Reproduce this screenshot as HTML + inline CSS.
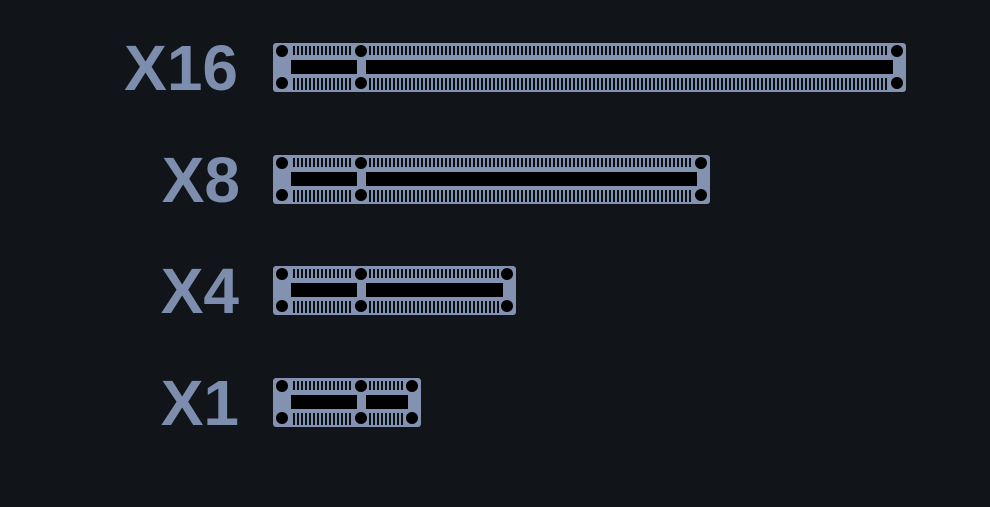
<!DOCTYPE html>
<html><head><meta charset="utf-8"><style>
html,body{margin:0;padding:0;background:#111418;}
svg{display:block}
</style></head><body>
<svg width="990" height="507" viewBox="0 0 990 507" xmlns="http://www.w3.org/2000/svg">
<defs>
<pattern id="pins" x="0" y="0" width="4" height="20" patternUnits="userSpaceOnUse">
<rect x="0" y="0" width="2" height="20" fill="#0b0d10"/>
</pattern>
</defs>
<rect width="990" height="507" fill="#111418"/>
<g font-family="'Liberation Sans',sans-serif" font-weight="bold" font-size="64" fill="#7d8dad" text-anchor="end">
<text x="238" y="90">X16</text>
<text x="240" y="202">X8</text>
<text x="239" y="313">X4</text>
<text x="239" y="425">X1</text>
</g>

<g transform="translate(273,43)">
<rect x="0" y="0" width="633" height="49" rx="3" fill="#8392b1"/>
<rect x="18" y="3" width="62" height="9" fill="url(#pins)"/>
<rect x="96" y="3" width="520" height="9" fill="url(#pins)"/>
<rect x="18" y="35" width="62" height="12" fill="url(#pins)"/>
<rect x="96" y="35" width="520" height="12" fill="url(#pins)"/>
<rect x="18" y="17" width="66" height="14" fill="#000"/>
<rect x="93" y="17" width="527" height="14" fill="#000"/>
<circle cx="9" cy="8" r="6"/><circle cx="9" cy="40" r="6"/>
<circle cx="88" cy="8" r="6"/><circle cx="88" cy="40" r="6"/>
<circle cx="624" cy="8" r="6"/><circle cx="624" cy="40" r="6"/>
</g>

<g transform="translate(273,155)">
<rect x="0" y="0" width="437" height="49" rx="3" fill="#8392b1"/>
<rect x="18" y="3" width="62" height="9" fill="url(#pins)"/>
<rect x="96" y="3" width="324" height="9" fill="url(#pins)"/>
<rect x="18" y="35" width="62" height="12" fill="url(#pins)"/>
<rect x="96" y="35" width="324" height="12" fill="url(#pins)"/>
<rect x="18" y="17" width="66" height="14" fill="#000"/>
<rect x="93" y="17" width="331" height="14" fill="#000"/>
<circle cx="9" cy="8" r="6"/><circle cx="9" cy="40" r="6"/>
<circle cx="88" cy="8" r="6"/><circle cx="88" cy="40" r="6"/>
<circle cx="428" cy="8" r="6"/><circle cx="428" cy="40" r="6"/>
</g>

<g transform="translate(273,266)">
<rect x="0" y="0" width="243" height="49" rx="3" fill="#8392b1"/>
<rect x="18" y="3" width="62" height="9" fill="url(#pins)"/>
<rect x="96" y="3" width="130" height="9" fill="url(#pins)"/>
<rect x="18" y="35" width="62" height="12" fill="url(#pins)"/>
<rect x="96" y="35" width="130" height="12" fill="url(#pins)"/>
<rect x="18" y="17" width="66" height="14" fill="#000"/>
<rect x="93" y="17" width="137" height="14" fill="#000"/>
<circle cx="9" cy="8" r="6"/><circle cx="9" cy="40" r="6"/>
<circle cx="88" cy="8" r="6"/><circle cx="88" cy="40" r="6"/>
<circle cx="234" cy="8" r="6"/><circle cx="234" cy="40" r="6"/>
</g>

<g transform="translate(273,378)">
<rect x="0" y="0" width="148" height="49" rx="3" fill="#8392b1"/>
<rect x="18" y="3" width="62" height="9" fill="url(#pins)"/>
<rect x="96" y="3" width="36" height="9" fill="url(#pins)"/>
<rect x="18" y="35" width="62" height="12" fill="url(#pins)"/>
<rect x="96" y="35" width="36" height="12" fill="url(#pins)"/>
<rect x="18" y="17" width="66" height="14" fill="#000"/>
<rect x="93" y="17" width="42" height="14" fill="#000"/>
<circle cx="9" cy="8" r="6"/><circle cx="9" cy="40" r="6"/>
<circle cx="88" cy="8" r="6"/><circle cx="88" cy="40" r="6"/>
<circle cx="139" cy="8" r="6"/><circle cx="139" cy="40" r="6"/>
</g>
</svg>
</body></html>
